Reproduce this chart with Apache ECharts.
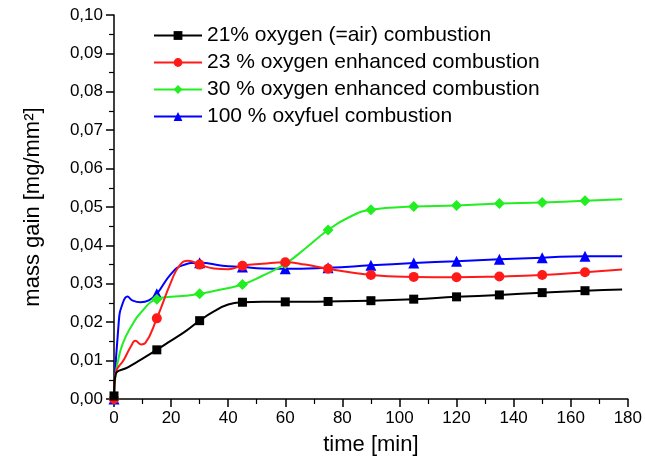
<!DOCTYPE html>
<html>
<head>
<meta charset="utf-8">
<script src="https://cdn.jsdelivr.net/npm/echarts@6/dist/echarts.min.js"></script>
<style>
html,body{margin:0;padding:0;background:#fff;}
#c{width:645px;height:466px;}
</style>
</head>
<body>
<div id="c"></div>
<script>
const seriesNames = [
  '21% oxygen (=air) combustion',
  '23 % oxygen enhanced combustion',
  '30 % oxygen enhanced combustion',
  '100 % oxyfuel combustion'
];
const markerTimes = [0, 15, 30, 45, 60, 75, 90, 105, 120, 135, 150, 165];
const xTicks = [0, 20, 40, 60, 80, 100, 120, 140, 160, 180];

const time21 = [0, 0.5, 5, 10, 15, 20, 25, 30, 35, 40, 45, 52, 60, 75, 90, 105, 120, 135, 150, 165, 178];
const mass21 = [0.0008, 0.0062, 0.0083, 0.0105, 0.0128, 0.0152, 0.0176, 0.0204, 0.0228, 0.0246, 0.0252, 0.0253, 0.0253, 0.0254, 0.0256, 0.0260, 0.0266, 0.0271, 0.0277, 0.0282, 0.0285];

const time23 = [0, 0.5, 3.5, 6, 7.5, 9.5, 11, 15, 20, 23, 26, 30, 35, 40, 45, 52, 60, 67, 75, 90, 105, 120, 135, 150, 165, 178];
const mass23 = [0.0, 0.0065, 0.0103, 0.0138, 0.0152, 0.0142, 0.0146, 0.0210, 0.0305, 0.0348, 0.0360, 0.0350, 0.0340, 0.0338, 0.0347, 0.0352, 0.0356, 0.0350, 0.0339, 0.0323, 0.0318, 0.0317, 0.0319, 0.0323, 0.0330, 0.0337];

const time30 = [0, 0.5, 1.2, 3, 6, 9.5, 15, 20, 25, 30, 38, 45, 52, 60, 67, 75, 82, 90, 105, 120, 135, 150, 165, 178];
const mass30 = [0.0, 0.0060, 0.0092, 0.0143, 0.0188, 0.0226, 0.0260, 0.0266, 0.0269, 0.0274, 0.0286, 0.0298, 0.0321, 0.0352, 0.0392, 0.0440, 0.0472, 0.0493, 0.0501, 0.0504, 0.0509, 0.0512, 0.0516, 0.0520];

const time100 = [0, 1.7, 3, 4.7, 6.4, 9.3, 12.2, 15, 20, 24, 30, 38, 45, 52, 60, 75, 90, 105, 120, 135, 150, 165, 178];
const mass100 = [0.0, 0.0204, 0.0248, 0.0267, 0.0257, 0.0252, 0.0257, 0.0274, 0.0326, 0.0348, 0.0355, 0.0347, 0.0344, 0.0340, 0.0339, 0.0342, 0.0348, 0.0354, 0.0359, 0.0364, 0.0368, 0.0372, 0.0372];

const colors = ['#000000', '#ff1a1a', '#22ee22', '#0000ff'];
const symbols = ['rect', 'circle', 'diamond', 'triangle'];
const symbolSizes = [9, 10, 11, 11];
const times = [time21, time23, time30, time100];
const masses = [mass21, mass23, mass30, mass100];

function buildData(ts, vs) {
  return ts.map((t, i) => {
    const item = { value: [t, vs[i]] };
    if (markerTimes.indexOf(t) < 0) item.symbol = 'none';
    return item;
  });
}

const FONT = 'Liberation Sans, Arial, sans-serif';
const chart = echarts.init(document.getElementById('c'), null, { renderer: 'canvas' });

const series = seriesNames.map((name, k) => ({
  name: name,
  type: 'line',
  data: buildData(times[k], masses[k]),
  smooth: 0.5,
  symbol: symbols[k],
  symbolSize: symbolSizes[k],
  showAllSymbol: true,
  lineStyle: { color: colors[k], width: 2 },
  itemStyle: { color: colors[k], borderWidth: 0 },
  emphasis: { disabled: true },
  z: 10 - k
}));

chart.setOption({
  animation: false,
  backgroundColor: '#ffffff',
  textStyle: { fontFamily: FONT },
  grid: { left: 114, right: 15, top: 15, bottom: 67, containLabel: false },
  legend: {
    orient: 'vertical',
    left: 148,
    top: 20,
    itemWidth: 48,
    itemHeight: 11,
    itemGap: 6,
    data: seriesNames,
    textStyle: { fontFamily: FONT, fontSize: 21, color: '#000' }
  },
  xAxis: {
    type: 'value',
    min: 0,
    max: 180,
    interval: 20,
    name: 'time [min]',
    nameLocation: 'middle',
    nameGap: 35,
    nameTextStyle: { fontFamily: FONT, fontSize: 22, color: '#000' },
    axisLine: { show: true, lineStyle: { color: '#000', width: 1.5 } },
    axisTick: { show: true, length: 8, lineStyle: { color: '#000', width: 1.5 } },
    minorTick: { show: true, splitNumber: 2, length: 5, lineStyle: { color: '#000', width: 1.2 } },
    splitLine: { show: false },
    axisLabel: { fontFamily: FONT, fontSize: 17, color: '#000', margin: 11,
      formatter: v => (xTicks.indexOf(v) >= 0 ? String(v) : '') }
  },
  yAxis: {
    type: 'value',
    min: 0,
    max: 0.1,
    interval: 0.01,
    name: 'mass gain [mg/mm²]',
    nameLocation: 'middle',
    nameRotate: 90,
    nameGap: 70,
    nameTextStyle: { fontFamily: FONT, fontSize: 22, color: '#000' },
    axisLine: { show: true, lineStyle: { color: '#000', width: 1.5 } },
    axisTick: { show: true, length: 8, lineStyle: { color: '#000', width: 1.5 } },
    minorTick: { show: true, splitNumber: 2, length: 5, lineStyle: { color: '#000', width: 1.2 } },
    splitLine: { show: false },
    axisLabel: { fontFamily: FONT, fontSize: 17, color: '#000', margin: 11,
      formatter: v => v.toFixed(2).replace('.', ',') }
  },
  series: series
});
</script>
</body>
</html>
